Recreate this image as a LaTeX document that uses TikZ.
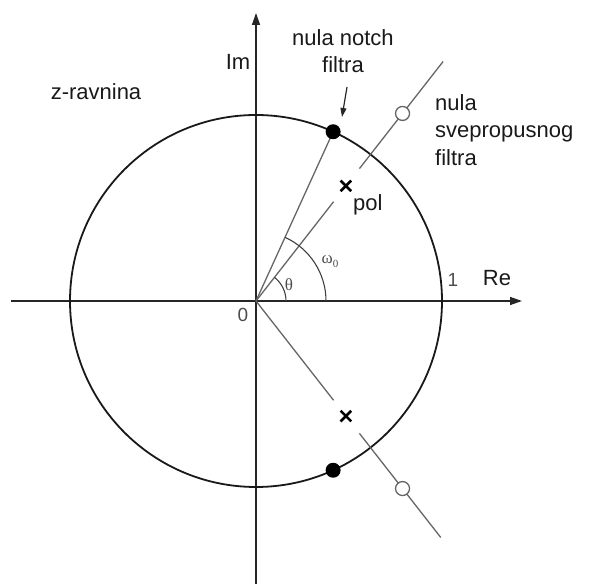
\documentclass[tikz,border=0pt]{standalone}
\usepackage{fontspec}
\setmainfont{Liberation Sans}
\newfontfamily\grk{Liberation Serif}
\usetikzlibrary{arrows.meta,shapes.misc}
\begin{document}
\begin{tikzpicture}[x=1pt,y=1pt,
  lbl/.style={font=\fontsize{22}{27.5}\selectfont, inner sep=0pt, text=black!90},
  num/.style={font=\fontsize{19}{22}\selectfont, inner sep=0pt, text=black!70},
  grl/.style={font=\grk\fontsize{17}{20}\selectfont, inner sep=0pt, text=black!70},
  axis/.style={line width=1.4pt, draw=black!85, -{Triangle[length=12pt,width=8pt]}},
  ray/.style={line width=1.3pt, draw=black!60},
  unit/.style={line width=1.8pt, draw=black!90},
  arcl/.style={line width=1.1pt, draw=black!75},
  zdot/.style={circle, fill=black, inner sep=0pt, minimum size=15pt},
  odot/.style={circle, draw=black!60, fill=white, line width=1.3pt, inner sep=0pt, minimum size=14pt},
  polex/.style={cross out, draw=black, line width=2.6pt, inner sep=0pt, minimum size=8pt}
]
\useasboundingbox (0,0) rectangle (597,584);
\coordinate (O) at (256,283);
\coordinate (xl) at (11,283);
\coordinate (xr) at (522,283);
\coordinate (yb) at (256,0);
\coordinate (yt) at (256,571);
% axes
\draw[axis] (xl) -- (xr);
\draw[axis] (yb) -- (yt);
% unit circle
\draw[unit] (O) circle (186);
% rays
\coordinate (n1) at ([shift={(65.5:186)}]O);
\coordinate (n2) at ([shift={(-65.5:186)}]O);
\coordinate (a1) at ([shift={(52:126)}]O);
\coordinate (b1) at ([shift={(52:168)}]O);
\coordinate (e1) at ([shift={(52:304)}]O);
\coordinate (a2) at ([shift={(-52:126)}]O);
\coordinate (b2) at ([shift={(-52:168)}]O);
\coordinate (e2) at ([shift={(-52:300)}]O);
\draw[ray] (O) -- (n1);
\draw[ray] (O) -- (a1);
\draw[ray] (b1) -- (e1);
\draw[ray] (O) -- (a2);
\draw[ray] (b2) -- (e2);
% angle arcs
\draw[arcl] ([shift={(0:30)}]O) arc[start angle=0, end angle=52, radius=30];
\draw[arcl] ([shift={(0:70)}]O) arc[start angle=0, end angle=65.5, radius=70];
% markers
\node[zdot] (z1) at (n1) {};
\node[zdot] (z2) at (n2) {};
\node[odot] (o1) at ([shift={(52:238)}]O) {};
\node[odot] (o2) at ([shift={(-52:238)}]O) {};
\node[polex] (p1) at ([shift={(52:146)}]O) {};
\node[polex] (p2) at ([shift={(-52:146)}]O) {};
% labels
\node[lbl] (zr) at (96,492) {z-ravnina};
\node[lbl] (im) at (238,522) {Im};
\node[lbl] (re) at (497,306) {Re};
\node[num] (one) at (453,304) {1};
\node[num] (zero) at (243,269) {0};
\node[grl] (th) at (289,299) {θ};
\node[grl] (om) at (330,322) {ω\raisebox{-4pt}{\fontsize{11}{11}\selectfont 0}};
\node[lbl, align=center] (nn) at (343,533) {nula notch\\filtra};
\node[lbl, align=left, anchor=west] (ns) at (435,454) {nula\\svepropusnog\\filtra};
\node[lbl, anchor=west] (pl) at (353,379) {pol};
\coordinate (arS) at (347,497);
\coordinate (arE) at (342,467);
\draw[line width=1.2pt, draw=black!85, -{Triangle[length=9pt,width=6pt]}] (arS) -- (arE);
\end{tikzpicture}
\end{document}
